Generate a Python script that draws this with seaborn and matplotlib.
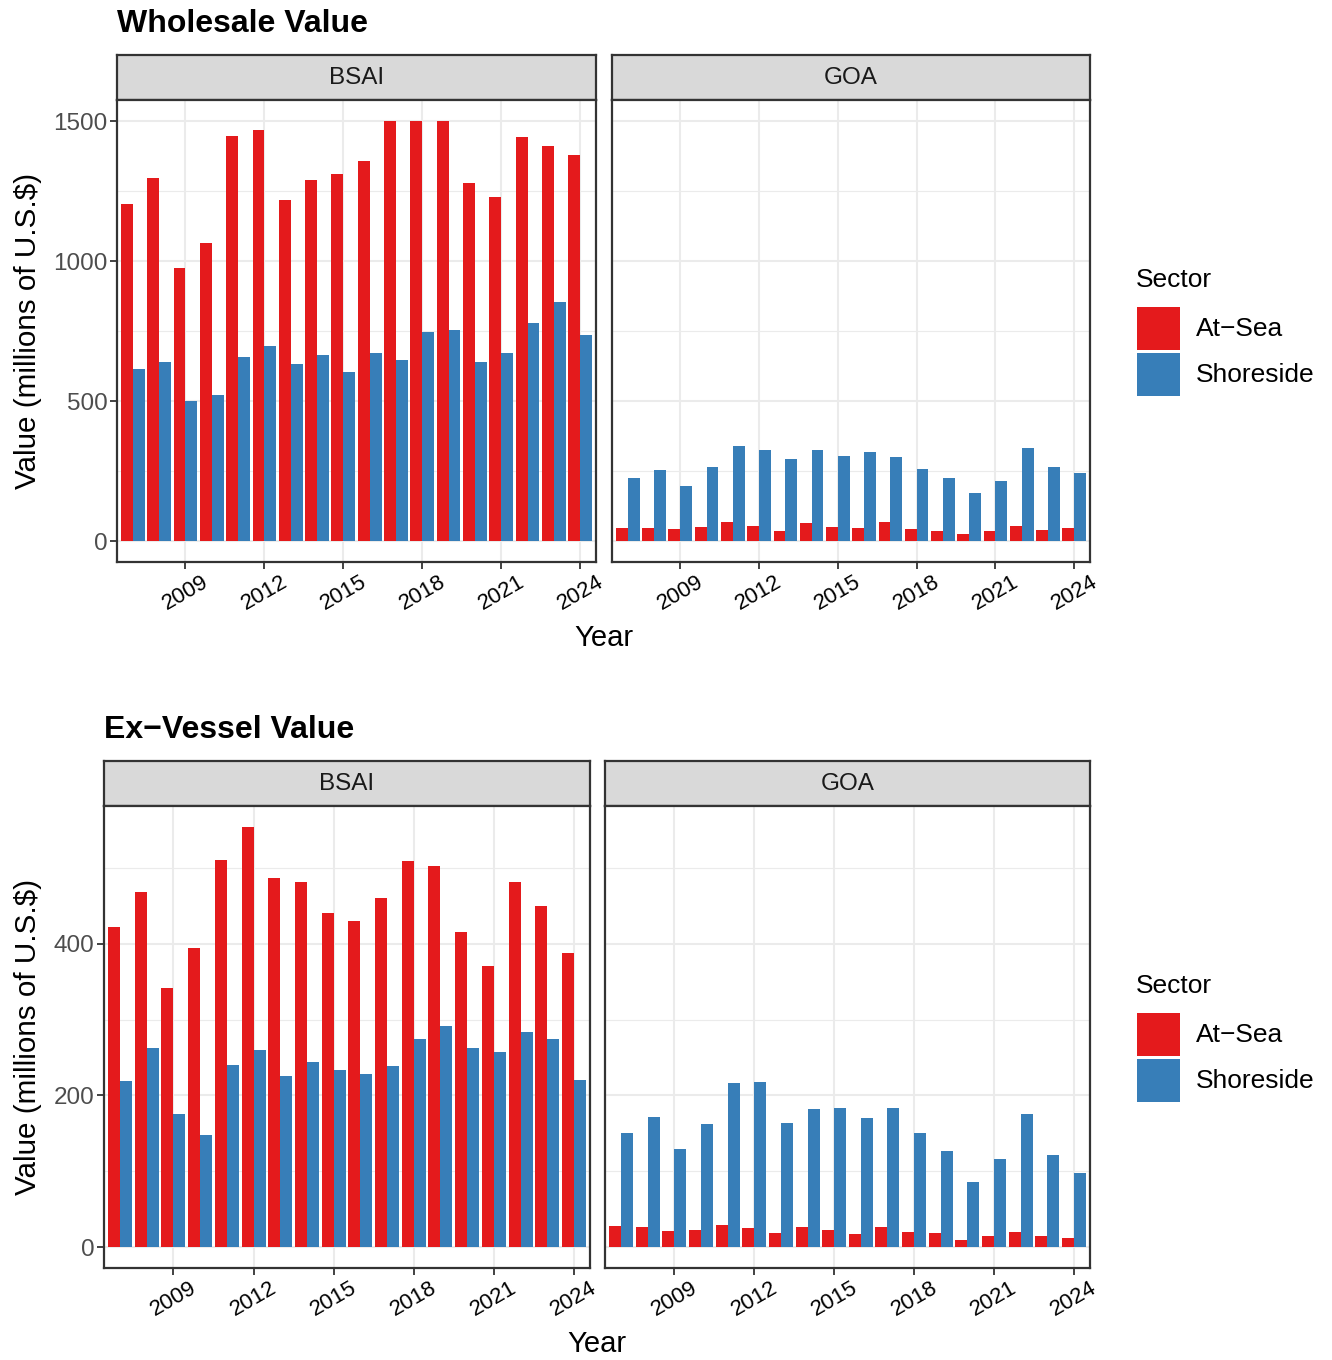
import matplotlib
matplotlib.use("Agg")
import matplotlib.pyplot as plt
from matplotlib.patches import Rectangle
from matplotlib.ticker import MultipleLocator
import seaborn as sns
import pandas as pd

# data (millions of U.S.$)
years = list(range(2007, 2025))
sectors = ["At\u2212Sea", "Shoreside"]
sector_colors = ["#E41A1C", "#377EB8"]

ws_bsai_atsea = [1204, 1297, 976, 1065, 1447, 1468, 1219, 1290, 1311, 1357, 1500, 1500, 1500, 1279, 1229, 1443, 1411, 1379]
ws_bsai_shore = [613, 641, 499, 520, 656, 698, 631, 666, 602, 670, 648, 748, 752, 641, 670, 777, 852, 734]
ws_goa_atsea = [48, 48, 44, 51, 69, 55, 37, 65, 51, 48, 69, 44, 37, 26, 37, 55, 40, 48]
ws_goa_shore = [226, 254, 197, 265, 340, 325, 293, 325, 304, 318, 300, 258, 226, 172, 215, 333, 265, 243]

ev_bsai_atsea = [422, 468, 341, 395, 510, 554, 487, 481, 441, 430, 460, 509, 502, 416, 371, 481, 450, 388]
ev_bsai_shore = [219, 262, 175, 148, 240, 260, 225, 244, 233, 228, 239, 275, 292, 262, 257, 283, 275, 220]
ev_goa_atsea = [28, 26, 21, 22, 29, 25, 18, 26, 22, 17, 26, 20, 18, 9, 14, 20, 14, 12]
ev_goa_shore = [151, 171, 129, 162, 216, 217, 163, 182, 184, 170, 183, 150, 126, 86, 116, 175, 121, 97]

x_breaks = [2009, 2012, 2015, 2018, 2021, 2024]

sns.set_theme(style="white")
plt.rcParams['font.family'] = ['Liberation Sans', 'DejaVu Sans']

W, H = 1332, 1360
fig = plt.figure(figsize=(W / 100, H / 100), dpi=100)
border = "#333333"


def rect(x0, y0, x1, y1):
    return [x0 / W, 1 - y1 / H, (x1 - x0) / W, (y1 - y0) / H]


def strip(x0, x1, y0, y1, label):
    sax = fig.add_axes(rect(x0, y0, x1, y1))
    sax.set_facecolor("#D9D9D9")
    sax.set_xticks([])
    sax.set_yticks([])
    for s in sax.spines.values():
        s.set_color(border)
        s.set_linewidth(1.6)
    sax.text(0.5, 0.5, label, ha="center", va="center", fontsize=17.5,
             color="#1A1A1A", transform=sax.transAxes)


def panel(x0, x1, y0, y1, atsea, shore, ylim, major, minor, show_y):
    ax = fig.add_axes(rect(x0, y0, x1, y1))
    df = pd.DataFrame({
        "Year": years + years,
        "Value": atsea + shore,
        "Sector": [sectors[0]] * len(years) + [sectors[1]] * len(years),
    })
    sns.barplot(data=df, x="Year", y="Value", hue="Sector", hue_order=sectors,
                palette=sector_colors, native_scale=True, width=0.9,
                saturation=1, linewidth=0, errorbar=None, legend=False, ax=ax)
    ax.set_facecolor("white")
    ax.set_axisbelow(True)
    ax.set_xlim(2006.4, 2024.6)
    ax.set_ylim(*ylim)
    ax.yaxis.set_major_locator(MultipleLocator(major))
    ax.yaxis.set_minor_locator(MultipleLocator(minor))
    ax.set_xticks(x_breaks)
    ax.set_xticklabels([str(b) for b in x_breaks], rotation=30, ha="center",
                       fontsize=16, color="black")
    ax.grid(True, which="major", color="#EBEBEB", linewidth=1.5)
    ax.grid(True, which="minor", axis="y", color="#EBEBEB", linewidth=0.8)
    ax.tick_params(axis="both", which="major", direction="out", length=5,
                   width=1.3, color=border, bottom=True, left=True, pad=2)
    ax.tick_params(axis="both", which="minor", length=0)
    ax.tick_params(axis="y", labelsize=17.5, labelcolor="#4D4D4D")
    if not show_y:
        ax.tick_params(axis="y", which="both", left=False, labelleft=False)
    ax.set_xlabel("")
    ax.set_ylabel("")
    for s in ax.spines.values():
        s.set_color(border)
        s.set_linewidth(1.6)
    return ax


def legend(top):
    # legend drawn by hand: title, two 43px keys, labels
    fig.text(1136 / W, 1 - (top + 232) / H, "Sector", fontsize=19,
             ha="left", va="baseline", color="black")
    for i, (lab, col) in enumerate(zip(sectors, sector_colors)):
        ky = top + 252 + i * 46
        fig.add_artist(Rectangle((1137 / W, 1 - (ky + 43) / H), 43 / W, 43 / H,
                                 transform=fig.transFigure, facecolor=col,
                                 edgecolor="none"))
        fig.text(1196 / W, 1 - (ky + 29) / H, lab, fontsize=19,
                 ha="left", va="baseline", color="black")


def block(top, left_b, right_b, left_g, title, data, ylim, major, minor):
    strip_top, panel_top, panel_bot = top, top + 45, top + 507
    fig.text(left_b / W, 1 - (top - 23) / H, title, fontsize=23,
             weight="bold", ha="left", va="baseline", color="black")
    strip(left_b, right_b, strip_top, panel_top, "BSAI")
    strip(left_g, 1090, strip_top, panel_top, "GOA")
    panel(left_b, right_b, panel_top, panel_bot, data[0], data[1], ylim, major, minor, True)
    panel(left_g, 1090, panel_top, panel_bot, data[2], data[3], ylim, major, minor, False)
    fig.text((left_b + 1090) / 2 / W, 1 - (panel_bot + 84) / H, "Year",
             fontsize=21, ha="center", va="baseline", color="black")
    fig.text(28 / W, 1 - (panel_top + panel_bot) / 2 / H, "Value (millions of U.S.$)",
             fontsize=21.3, rotation=90, ha="center", va="center", color="black")
    legend(top)


block(55, 117, 596, 612, "Wholesale Value",
      [ws_bsai_atsea, ws_bsai_shore, ws_goa_atsea, ws_goa_shore],
      (-75, 1575), 500, 250)
block(761, 104, 590, 605, "Ex\u2212Vessel Value",
      [ev_bsai_atsea, ev_bsai_shore, ev_goa_atsea, ev_goa_shore],
      (-27.7, 581.7), 200, 100)

fig.savefig("out.png", dpi=100, facecolor="white")
